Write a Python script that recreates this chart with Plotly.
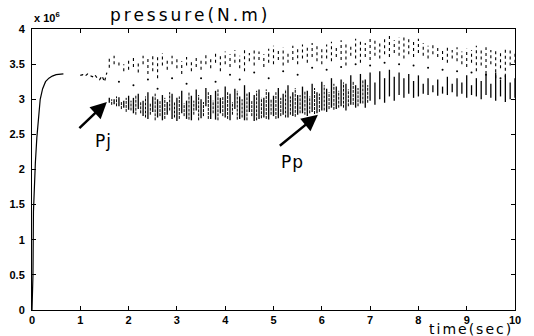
import plotly.graph_objects as go

# --- startup transient ---
t_rise = [0.0, 0.02, 0.03, 0.05, 0.07, 0.10, 0.13, 0.17, 0.22, 0.28, 0.35, 0.42, 0.50, 0.58, 0.65]
p_rise = [0.0, 0.50, 1.40, 1.80, 2.10, 2.45, 2.75, 3.00, 3.15, 3.25, 3.30, 3.33, 3.35, 3.36, 3.36]

# --- early dotted section ---
t_early = [1.00, 1.05, 1.10, 1.15, 1.20, 1.25, 1.30, 1.35, 1.40, 1.45, 1.50, 1.55]
p_early = [3.34, 3.35, 3.33, 3.36, 3.34, 3.32, 3.35, 3.30, 3.28, 3.33, 3.25, 3.38]

# --- oscillating bands (time, stroke top / bottom) ---
t_band = [1.6, 1.7, 1.8, 1.9, 2.0, 2.1, 2.2, 2.3, 2.4, 2.5, 2.6, 2.7, 2.8, 2.9, 3.0,
          3.1, 3.2, 3.3, 3.4, 3.5, 3.6, 3.7, 3.8, 3.9, 4.0, 4.1, 4.2, 4.3, 4.4, 4.5,
          4.6, 4.7, 4.8, 4.9, 5.0, 5.1, 5.2, 5.3, 5.4, 5.5, 5.6, 5.7, 5.8, 5.9, 6.0,
          6.1, 6.2, 6.3, 6.4, 6.5, 6.6, 6.7, 6.8, 6.9, 7.0, 7.1, 7.2, 7.3, 7.4, 7.5,
          7.6, 7.7, 7.8, 7.9, 8.0, 8.1, 8.2, 8.3, 8.4, 8.5, 8.6, 8.7, 8.8, 8.9, 9.0,
          9.1, 9.2, 9.3, 9.4, 9.5, 9.6, 9.7, 9.8, 9.9, 10.0]
low_top = [3.02, 3.00, 3.03, 2.98, 3.05, 3.02, 3.08, 2.98, 3.10, 3.04, 3.00, 3.06, 2.96, 3.08, 3.02,
           3.12, 2.98, 3.05, 3.14, 3.00, 3.16, 3.06, 3.12, 3.02, 3.18, 3.08, 3.15, 3.04, 3.20, 3.10,
           3.06, 3.14, 3.02, 3.10, 3.05, 3.16, 3.08, 3.20, 3.10, 3.06, 3.18, 3.12, 3.22, 3.10, 3.25,
           3.15, 3.30, 3.18, 3.28, 3.22, 3.34, 3.20, 3.36, 3.28, 3.38, 3.24, 3.40, 3.30, 3.42, 3.32,
           3.38, 3.30, 3.36, 3.26, 3.34, 3.22, 3.30, 3.20, 3.28, 3.18, 3.32, 3.22, 3.30, 3.24, 3.34,
           3.20, 3.30, 3.26, 3.36, 3.22, 3.38, 3.28, 3.34, 3.24, 3.30]
low_bot = [2.95, 2.93, 2.90, 2.88, 2.85, 2.80, 2.86, 2.76, 2.72, 2.82, 2.74, 2.70, 2.78, 2.72, 2.69,
           2.80, 2.72, 2.70, 2.84, 2.73, 2.90, 2.72, 2.71, 2.80, 2.74, 2.70, 2.86, 2.72, 2.70, 2.82,
           2.69, 2.72, 2.74, 2.71, 2.76, 2.73, 2.78, 2.74, 2.76, 2.78, 2.80, 2.76, 2.82, 2.80, 2.84,
           2.82, 2.88, 2.86, 2.90, 2.84, 2.92, 2.88, 2.94, 2.88, 2.98, 2.92, 3.00, 2.95, 3.04, 2.98,
           3.06, 3.02, 3.08, 3.02, 3.04, 3.08, 3.06, 3.10, 3.05, 3.08, 3.06, 3.10, 3.04, 3.08, 3.02,
           3.06, 3.04, 3.00, 3.06, 3.02, 2.98, 3.04, 2.96, 3.00, 3.02]
up_top = [3.60, 3.62, 3.55, 3.50, 3.58, 3.60, 3.52, 3.62, 3.58, 3.64, 3.60, 3.66, 3.56, 3.62, 3.58,
          3.54, 3.60, 3.56, 3.62, 3.58, 3.64, 3.60, 3.66, 3.62, 3.68, 3.64, 3.70, 3.62, 3.70, 3.66,
          3.72, 3.68, 3.64, 3.72, 3.76, 3.70, 3.74, 3.68, 3.76, 3.72, 3.78, 3.74, 3.80, 3.76, 3.72,
          3.78, 3.82, 3.76, 3.84, 3.80, 3.78, 3.86, 3.82, 3.80, 3.88, 3.84, 3.80, 3.86, 3.90, 3.84,
          3.88, 3.92, 3.86, 3.82, 3.86, 3.80, 3.76, 3.80, 3.74, 3.72, 3.76, 3.70, 3.74, 3.68, 3.72,
          3.70, 3.76, 3.72, 3.74, 3.70, 3.72, 3.68, 3.74, 3.70, 3.66]
up_bot = [3.45, 3.50, 3.48, 3.40, 3.42, 3.46, 3.38, 3.50, 3.36, 3.40, 3.30, 3.48, 3.42, 3.50, 3.44,
          3.36, 3.48, 3.40, 3.46, 3.42, 3.50, 3.44, 3.52, 3.40, 3.50, 3.46, 3.52, 3.44, 3.40, 3.54,
          3.48, 3.56, 3.46, 3.52, 3.50, 3.56, 3.48, 3.52, 3.56, 3.50, 3.58, 3.52, 3.60, 3.54, 3.50,
          3.58, 3.54, 3.60, 3.56, 3.48, 3.62, 3.58, 3.52, 3.60, 3.56, 3.62, 3.58, 3.64, 3.60, 3.66,
          3.62, 3.58, 3.64, 3.60, 3.66, 3.62, 3.58, 3.64, 3.60, 3.56, 3.52, 3.58, 3.54, 3.50, 3.46,
          3.52, 3.40, 3.48, 3.36, 3.50, 3.30, 3.44, 3.32, 3.48, 3.52]

# --- extra strokes of the dense lower band (between the samples above) ---
t_band2 = [1.65, 1.75, 1.85, 1.95, 2.05, 2.15, 2.25, 2.35, 2.45, 2.55, 2.65, 2.75, 2.85, 2.95,
           3.05, 3.15, 3.25, 3.35, 3.45, 3.55, 3.65, 3.75, 3.85, 3.95, 4.05, 4.15, 4.25, 4.35,
           4.45, 4.55, 4.65, 4.75, 4.85, 4.95, 5.05, 5.15, 5.25, 5.35, 5.45, 5.55, 5.65, 5.75,
           5.85, 5.95, 6.05, 6.15, 6.25, 6.35, 6.45, 6.55, 6.65, 6.75, 6.85, 6.95]
low2_top = [3.00, 3.04, 2.96, 3.02, 2.98, 3.06, 2.96, 3.04, 2.94, 3.08, 2.98, 3.02, 3.10, 2.96,
            3.04, 2.94, 3.10, 2.98, 3.06, 2.96, 3.10, 2.98, 3.14, 3.04, 3.10, 2.96, 3.12, 3.00,
            3.08, 2.98, 3.12, 3.02, 3.14, 3.00, 3.10, 3.02, 3.14, 3.04, 3.16, 3.06, 3.12, 3.04,
            3.16, 3.08, 3.20, 3.10, 3.22, 3.12, 3.24, 3.14, 3.26, 3.16, 3.28, 3.20]
low2_bot = [2.92, 2.90, 2.86, 2.82, 2.84, 2.78, 2.80, 2.74, 2.78, 2.70, 2.76, 2.72, 2.84, 2.74,
            2.72, 2.76, 2.71, 2.78, 2.70, 2.76, 2.72, 2.80, 2.70, 2.76, 2.72, 2.78, 2.71, 2.74,
            2.70, 2.76, 2.70, 2.73, 2.72, 2.78, 2.72, 2.76, 2.74, 2.78, 2.75, 2.80, 2.78, 2.80,
            2.79, 2.82, 2.84, 2.86, 2.85, 2.88, 2.88, 2.90, 2.92, 2.90, 2.94, 2.95]

# --- sparse samples between the bands ---
t_mid = [1.8, 2.1, 2.4, 2.6, 2.9, 3.2, 3.5, 3.8, 4.1, 4.3, 4.6, 4.9, 5.2, 5.5, 5.8, 6.1, 6.4,
         6.7, 7.0, 7.3, 7.6, 7.9, 8.2, 8.5, 8.8, 9.1, 9.4, 9.7]
p_mid = [3.25, 3.20, 3.28, 3.15, 3.30, 3.22, 3.30, 3.25, 3.35, 3.28, 3.38, 3.30, 3.40, 3.35,
         3.45, 3.42, 3.46, 3.50, 3.48, 3.52, 3.50, 3.48, 3.45, 3.42, 3.40, 3.38, 3.35, 3.30]

x_ticks = [0, 1, 2, 3, 4, 5, 6, 7, 8, 9, 10]
y_ticks = [0, 0.5, 1, 1.5, 2, 2.5, 3, 3.5, 4]
y_labels = ["0", "0.5", "1", "1.5", "2", "2.5", "3", "3.5", "4"]


def strokes(t, lo, hi):
    xs, ys = [], []
    for a, b, c in zip(t, lo, hi):
        xs += [a, a, None]
        ys += [b, c, None]
    return xs, ys


fig = go.Figure()
fig.add_trace(go.Scatter(x=t_rise, y=p_rise, mode="lines",
                         line=dict(color="black", width=1.2), hoverinfo="skip"))
fig.add_trace(go.Scatter(x=t_early, y=p_early, mode="lines",
                         line=dict(color="black", width=1.2, dash="dot"), hoverinfo="skip"))
xl, yl = strokes(t_band, low_bot, low_top)
fig.add_trace(go.Scatter(x=xl, y=yl, mode="lines",
                         line=dict(color="black", width=1.3), hoverinfo="skip"))
xl2, yl2 = strokes(t_band2, low2_bot, low2_top)
fig.add_trace(go.Scatter(x=xl2, y=yl2, mode="lines",
                         line=dict(color="black", width=1.0, dash="3px,1px"), hoverinfo="skip"))
xu, yu = strokes(t_band, up_bot, up_top)
fig.add_trace(go.Scatter(x=xu, y=yu, mode="lines",
                         line=dict(color="black", width=1.1, dash="dot"), hoverinfo="skip"))
fig.add_trace(go.Scatter(x=t_mid, y=p_mid, mode="markers",
                         marker=dict(color="black", size=2), hoverinfo="skip"))

tick_font = dict(family="Liberation Sans", size=11, color="black", weight="bold")
axis_common = dict(showline=True, linecolor="black", linewidth=1, mirror="ticks",
                   ticks="inside", ticklen=4, tickcolor="black", showgrid=False,
                   zeroline=False, tickfont=tick_font, automargin=False)
fig.update_xaxes(range=[0, 10], tickvals=x_ticks, **axis_common)
fig.update_yaxes(range=[0, 4], tickvals=y_ticks, ticktext=y_labels, ticklabelstandoff=4,
                 **axis_common)

anns = [
    dict(text='<span style="letter-spacing:3px">pressure(N.m)</span>', xref="paper", yref="paper",
         x=0.327, y=1.0, xanchor="center", yanchor="bottom", yshift=2, showarrow=False,
         font=dict(family="DejaVu Sans", size=17, color="black")),
    dict(text='<span style="letter-spacing:2px">time(sec)</span>', xref="paper", yref="paper",
         x=1.0, y=0, xanchor="right", yanchor="top", yshift=-9, showarrow=False,
         font=dict(family="DejaVu Sans", size=14, color="black")),
    dict(text="x 10<sup>6</sup>", xref="paper", yref="paper", x=0.0, y=1.0,
         xanchor="left", yanchor="bottom", yshift=3, showarrow=False, font=tick_font),
    dict(text='<span style="letter-spacing:1px">Pj</span>', x=1.47, y=2.41, xref="x", yref="y",
         showarrow=False, font=dict(family="DejaVu Sans", size=17, color="black")),
    dict(text='<span style="letter-spacing:1px">Pp</span>', x=5.4, y=2.1, xref="x", yref="y",
         showarrow=False, font=dict(family="DejaVu Sans", size=17, color="black")),
    dict(text="", x=1.55, y=2.96, ax=0.95, ay=2.57, xref="x", yref="y", axref="x", ayref="y",
         showarrow=True, arrowhead=2, arrowsize=1.3, arrowwidth=2.5, arrowcolor="black"),
    dict(text="", x=5.92, y=2.78, ax=5.1, ay=2.32, xref="x", yref="y", axref="x", ayref="y",
         showarrow=True, arrowhead=2, arrowsize=1.3, arrowwidth=2.5, arrowcolor="black"),
]
fig.update_layout(width=534, height=336, margin=dict(l=32, r=19, t=29, b=26),
                  paper_bgcolor="white", plot_bgcolor="white", showlegend=False,
                  annotations=anns)
fig.write_html("out.html")
